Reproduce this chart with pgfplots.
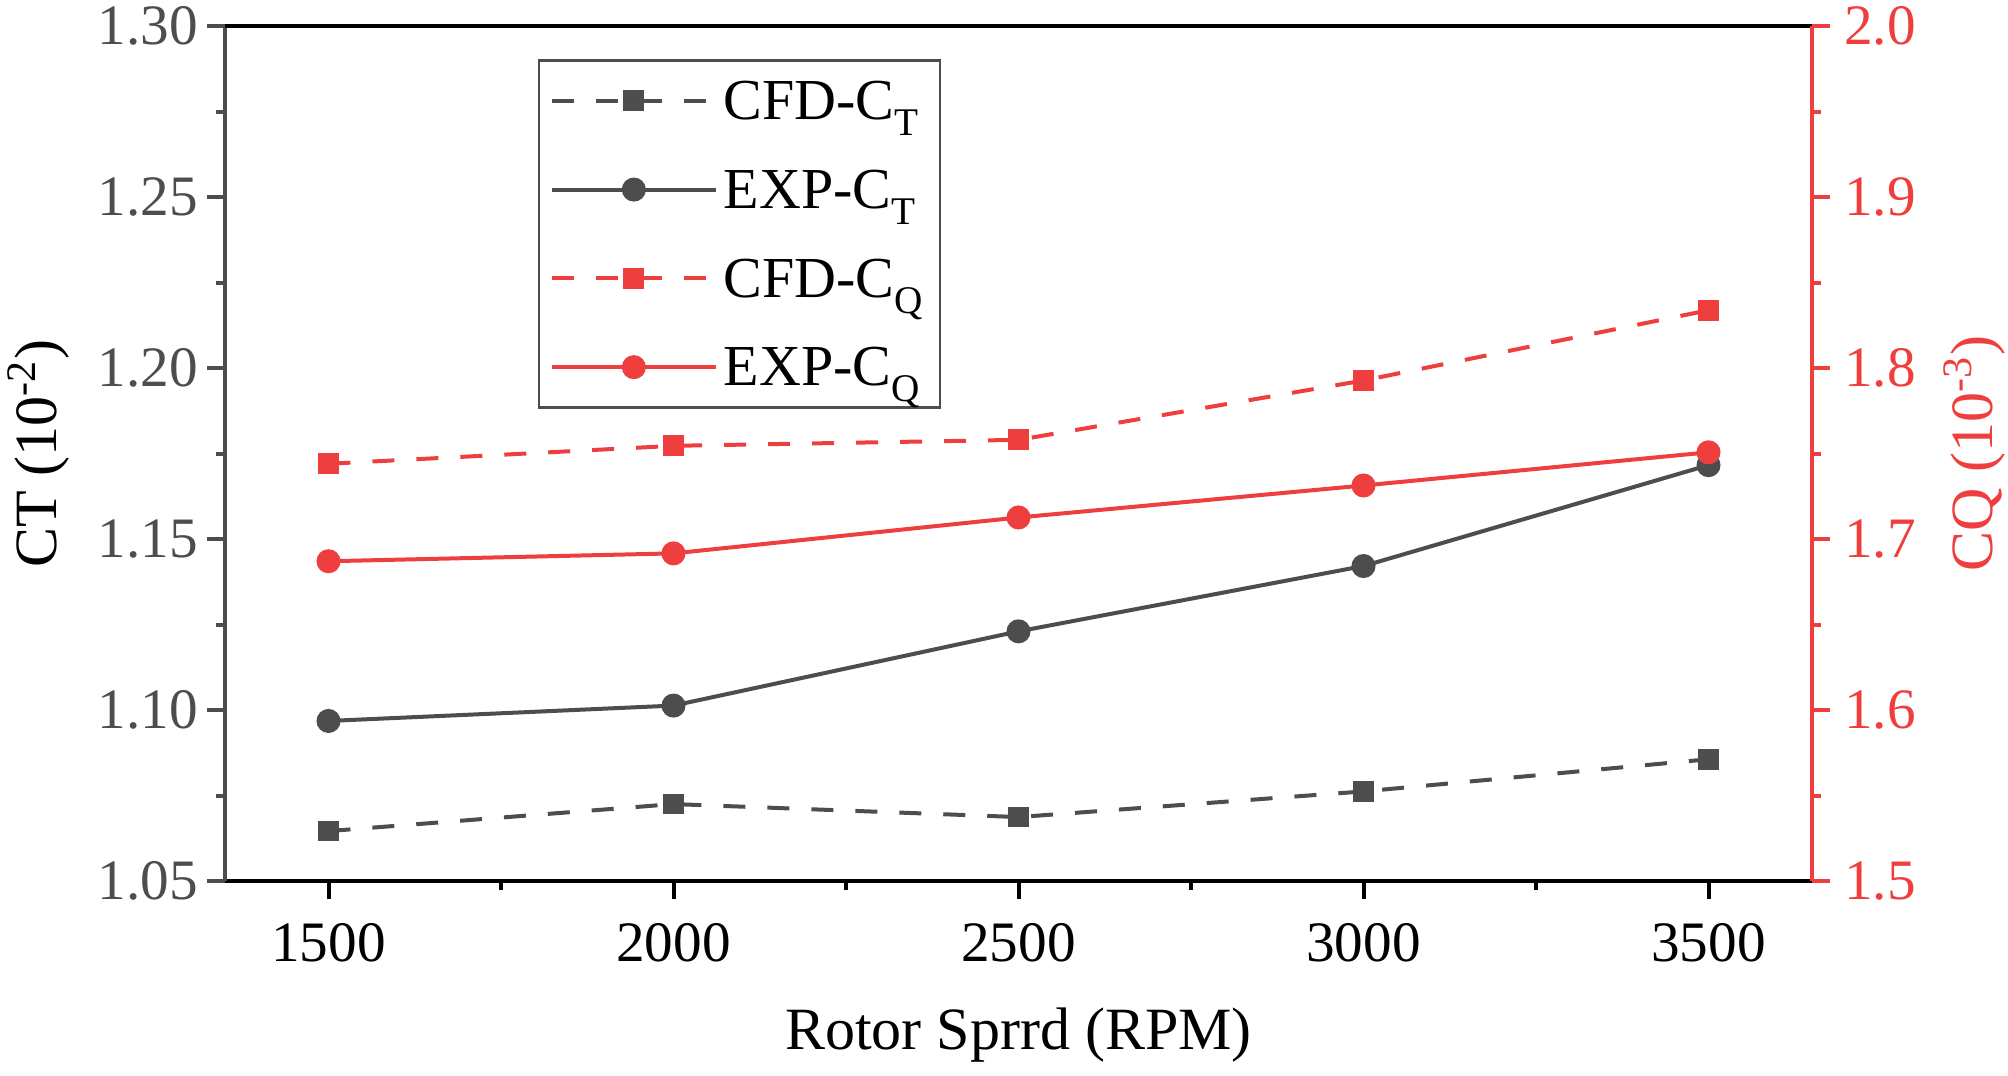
\documentclass[border=0pt]{standalone}
\usepackage{fontspec}
\setmainfont{Liberation Serif}
\usepackage{pgfplots}
\pgfplotsset{compat=1.18}
\definecolor{dg}{HTML}{4D4D4D}
\definecolor{rd}{HTML}{EF3E3E}
\newcommand\sub[1]{\raisebox{-4pt}{\fontsize{9.8}{10}\selectfont #1}}
\begin{document}
\begin{tikzpicture}
\useasboundingbox (0,0) rectangle (502pt,268.75pt);
\pgfplotsset{
  base/.style={
    at={(56.25pt,48.5pt)}, anchor=south west,
    width=396.75pt, height=213.75pt, scale only axis,
    xmin=1350, xmax=3650,
    tick align=outside,
    major tick length=4.5pt, minor tick length=2.3pt,
    every tick/.style={line width=1pt},
    /pgf/number format/assume math mode=true,
    /pgf/number format/1000 sep={},
    tick label style={font=\fontsize{14.3}{17}\selectfont},
    label style={font=\fontsize{15}{18}\selectfont},
    clip=false,
  },
  lgimg/.style={legend image code/.code={
    \draw[mark repeat=2,mark phase=2,##1] plot coordinates {(0pt,0pt) (20.5pt,0pt) (41pt,0pt)};}},
  cfdct/.style={dg, line width=1pt, dash pattern=on 5.5pt off 5.5pt, mark=square*, mark size=2.1pt, mark options={solid}},
  expct/.style={dg, line width=1pt, mark=*, mark size=2.5pt, mark options={solid}},
  cfdcq/.style={rd, line width=1pt, dash pattern=on 5.5pt off 5.5pt, mark=square*, mark size=2.1pt, mark options={solid}},
  expcq/.style={rd, line width=1pt, mark=*, mark size=2.5pt, mark options={solid}},
}
\begin{axis}[base,
  axis x line*=bottom, axis y line*=left,
  x axis line style={black, line width=1.1pt},
  y axis line style={dg, line width=1.1pt},
  xtick={1500,2000,2500,3000,3500}, minor x tick num=1,
  x tick style={black},
  xticklabel style={black, yshift=-2.5pt},
  ymin=1.05, ymax=1.30,
  ytick={1.05,1.10,1.15,1.20,1.25,1.30}, minor y tick num=1,
  y tick style={dg},
  yticklabel style={dg, xshift=1.2pt, /pgf/number format/.cd, fixed, fixed zerofill, precision=2},
  xlabel={Rotor Sprrd (RPM)},
  xlabel style={at={(axis description cs:0.5,-0.18)}, anchor=center},
  ylabel={CT (10\textsuperscript{-2})},
  ylabel style={at={(axis description cs:-0.1178,0.5)}, anchor=center, rotate=0},
]
\addplot[cfdct] coordinates {(1500,1.0646) (2000,1.0725) (2500,1.0687) (3000,1.0762) (3500,1.0856)};
\addplot[expct] coordinates {(1500,1.0968) (2000,1.1013) (2500,1.1230) (3000,1.1421) (3500,1.1716)};
\end{axis}
\begin{axis}[base, lgimg,
  axis x line*=top, axis y line*=right,
  x axis line style={black, line width=1.1pt},
  y axis line style={rd, line width=1.1pt},
  xtick=\empty,
  ymin=1.5, ymax=2.0,
  ytick={1.5,1.6,1.7,1.8,1.9,2.0}, minor y tick num=1,
  y tick style={rd},
  yticklabel style={rd, /pgf/number format/.cd, fixed, fixed zerofill, precision=1},
  ylabel={CQ (10\textsuperscript{-3})},
  ylabel style={rd, at={(axis description cs:1.1025,0.5)}, anchor=center},
  legend style={at={(0.197,0.961)}, anchor=north west, draw=dg, line width=0.6pt,
    font=\fontsize{14.5}{16}\selectfont, row sep=7.6pt, inner sep=2.75pt,
    nodes={inner ysep=0pt, inner xsep=1.5pt, text height=12pt, text depth=2.6pt}},
  legend cell align=left,
]
\addlegendimage{cfdct}\addlegendentry{CFD-C\sub{T}}
\addlegendimage{expct}\addlegendentry{EXP-C\sub{T}}
\addplot[cfdcq] coordinates {(1500,1.744) (2000,1.7545) (2500,1.758) (3000,1.7927) (3500,1.8338)};
\addlegendentry{CFD-C\sub{Q}}
\addplot[expcq] coordinates {(1500,1.687) (2000,1.6916) (2500,1.7126) (3000,1.7313) (3500,1.7507)};
\addlegendentry{EXP-C\sub{Q}}
\end{axis}
\end{tikzpicture}
\end{document}
